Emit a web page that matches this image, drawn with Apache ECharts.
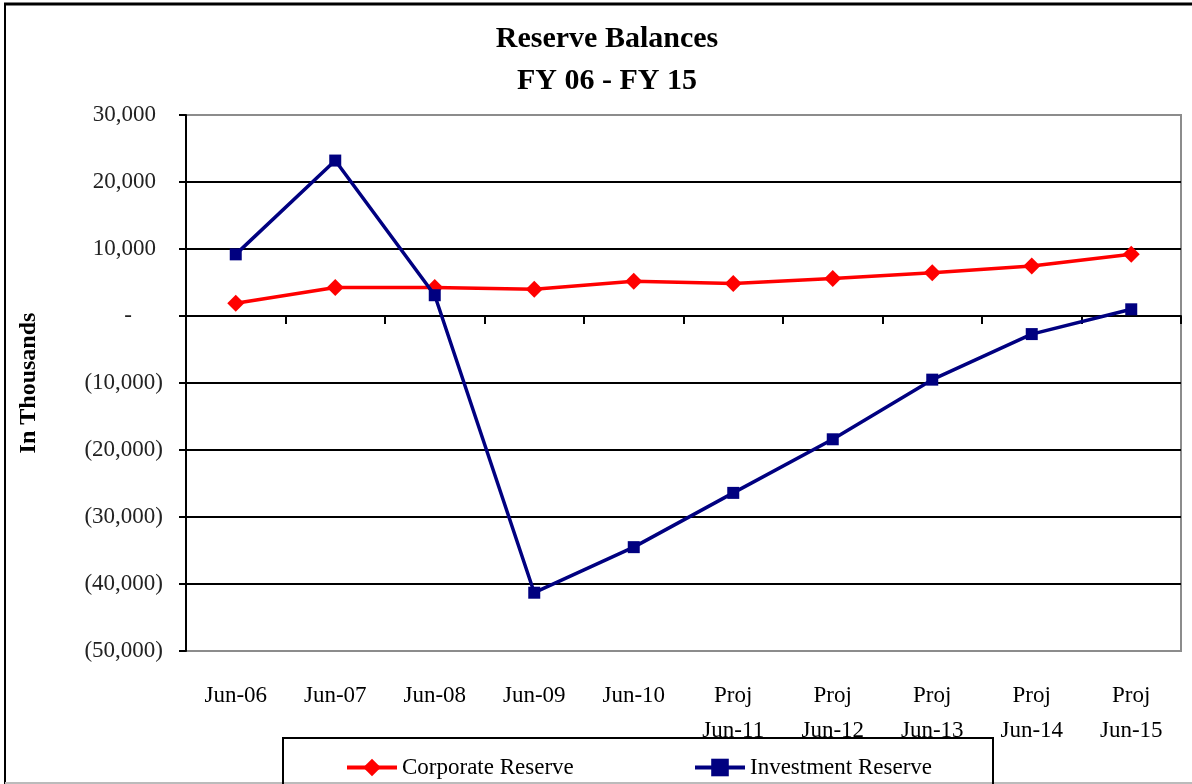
<!DOCTYPE html>
<html><head><meta charset="utf-8">
<script src="https://cdn.jsdelivr.net/npm/echarts@6/dist/echarts.min.js"></script>
<style>html,body{margin:0;padding:0;background:#fff}#c{width:1192px;height:784px}</style>
</head><body><div id="c"></div>
<script>
const categories = ['Jun-06','Jun-07','Jun-08','Jun-09','Jun-10','Proj\nJun-11','Proj\nJun-12','Proj\nJun-13','Proj\nJun-14','Proj\nJun-15'];
const corporateReserve = [1900, 4250, 4250, 4000, 5200, 4850, 5600, 6450, 7470, 9200];
const investmentReserve = [9200, 23200, 3100, -41300, -34500, -26400, -18400, -9500, -2700, 1000];
const yMin = -50000, yMax = 30000, yStep = 10000;
const FONT = '"Liberation Serif", "DejaVu Serif", serif';

function fmtY(v){
  if (v === 0) return '{z|-}';
  const s = Math.abs(v).toLocaleString('en-US');
  return v < 0 ? '(' + s + ')' : '{p|' + s + '}';
}

const labelText = {fontFamily:FONT, fontSize:23, color:'#222'};
const chart = echarts.init(document.getElementById('c'), null, {renderer:'canvas'});
chart.setOption({
  backgroundColor:'#fff',
  animation:false,
  title:{
    text:'Reserve Balances\nFY 06 - FY 15',
    left:602, textAlign:'center', top:13,
    textStyle:{fontFamily:FONT, fontWeight:'bold', fontSize:30, color:'#000', lineHeight:42}
  },
  grid:{left:186, right:11, top:115, bottom:133, show:true, borderColor:'#8c8c8c', borderWidth:2, backgroundColor:'transparent'},
  legend:[
    {data:['Corporate Reserve'], left:340, top:751, itemWidth:50, itemHeight:22, itemGap:10,
     lineStyle:{width:4}, textStyle:{fontFamily:FONT, fontSize:23, color:'#000'}},
    {data:['Investment Reserve'], left:688, top:751, itemWidth:50, itemHeight:22, itemGap:10,
     lineStyle:{width:4}, textStyle:{fontFamily:FONT, fontSize:23, color:'#000'}}
  ],
  xAxis:[
    {type:'category', data:categories, boundaryGap:true, position:'bottom',
     axisLine:{show:false, onZero:false}, axisTick:{show:false},
     axisLabel:{fontFamily:FONT, fontSize:23, color:'#000', lineHeight:35, margin:27, interval:0},
     splitLine:{show:false}},
    {type:'category', data:categories, boundaryGap:true, position:'bottom',
     axisLine:{show:true, onZero:true, lineStyle:{color:'#000', width:2}},
     axisTick:{show:true, length:8, lineStyle:{color:'#000', width:2}},
     axisLabel:{show:false}, splitLine:{show:false}}
  ],
  yAxis:{
    type:'value', min:yMin, max:yMax, interval:yStep,
    name:'In Thousands', nameLocation:'middle', nameGap:145, nameRotate:90,
    nameTextStyle:{fontFamily:FONT, fontWeight:'bold', fontSize:24, color:'#000'},
    axisLine:{show:true, lineStyle:{color:'#000', width:2}},
    axisTick:{show:true, length:7, lineStyle:{color:'#000', width:2}},
    axisLabel:Object.assign({margin:23, formatter:fmtY,
      rich:{p:Object.assign({padding:[0,7,0,0]}, labelText), z:Object.assign({padding:[0,31,0,0]}, labelText)}}, labelText),
    splitLine:{show:true, lineStyle:{color:['#8c8c8c','#000','#000','#000','#000','#000','#000','#000','#8c8c8c'], width:2}}
  },
  series:[
    {name:'Corporate Reserve', type:'line', data:corporateReserve, xAxisIndex:0,
     symbol:'diamond', symbolSize:17, showAllSymbol:true,
     lineStyle:{color:'#ff0000', width:3.5}, itemStyle:{color:'#ff0000'}, z:3},
    {name:'Investment Reserve', type:'line', data:investmentReserve, xAxisIndex:0,
     symbol:'rect', symbolSize:12, showAllSymbol:true,
     lineStyle:{color:'#000080', width:3.5}, itemStyle:{color:'#000080'}, z:4}
  ],
  graphic:[
    {type:'line', shape:{x1:4, y1:4, x2:1192, y2:4}, style:{stroke:'#000', lineWidth:3}, silent:true},
    {type:'line', shape:{x1:5, y1:3, x2:5, y2:784}, style:{stroke:'#000', lineWidth:2}, silent:true},
    {type:'line', shape:{x1:5, y1:783, x2:1192, y2:783}, style:{stroke:'#bbb', lineWidth:2}, silent:true},
    {type:'rect', shape:{x:283, y:738, width:710, height:70}, style:{fill:'none', stroke:'#000', lineWidth:2}, silent:true}
  ]
});
</script></body></html>
